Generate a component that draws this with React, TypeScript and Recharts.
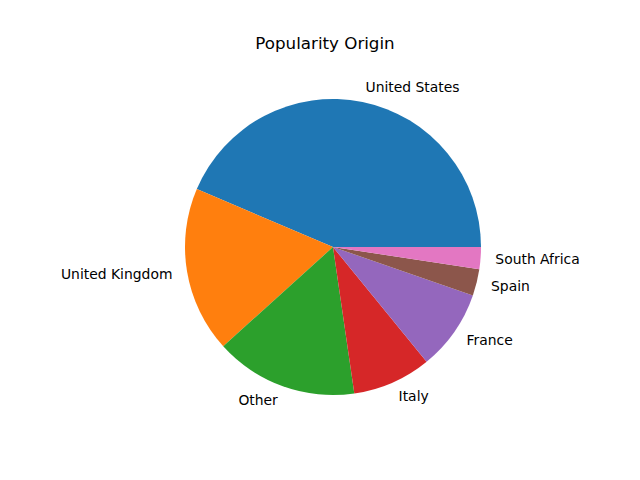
import React from 'react';
import { PieChart, Pie, Cell } from 'recharts';

const categories = ['United States', 'United Kingdom', 'Other', 'Italy', 'France', 'Spain', 'South Africa'];
const values = [43.6, 18.1, 15.6, 8.6, 8.8, 2.9, 2.4];
const colors = ['#1f77b4', '#ff7f0e', '#2ca02c', '#d62728', '#9467bd', '#8c564b', '#e377c2'];

const data = categories.map((name, i) => ({ name, value: values[i] }));
const RAD = Math.PI / 180;

const renderLabel = (p: any) => {
  const r = p.outerRadius * 1.1;
  const x = p.cx + r * Math.cos(-p.midAngle * RAD);
  const y = p.cy + r * Math.sin(-p.midAngle * RAD);
  return (
    <text x={x} y={y} fill="#000" fontSize={13.9} fontFamily="DejaVu Sans"
      textAnchor={x >= p.cx ? 'start' : 'end'} dominantBaseline="central">
      {p.name}
    </text>
  );
};

export default function App() {
  return (
    <div style={{ position: 'absolute', left: 0, top: 0, width: 640, height: 480, background: '#fff' }}>
      <PieChart width={640} height={480}>
        <text x={325} y={43} textAnchor="middle" dominantBaseline="central" fontSize={16.7} fontFamily="DejaVu Sans" fill="#000">
          Popularity Origin
        </text>
        <Pie data={data} dataKey="value" nameKey="name" cx={328} cy={242} outerRadius={148}
          startAngle={0} endAngle={360} stroke="none" label={renderLabel} labelLine={false}
          isAnimationActive={false}>
          {data.map((d, i) => <Cell key={d.name} fill={colors[i]} />)}
        </Pie>
      </PieChart>
    </div>
  );
}
